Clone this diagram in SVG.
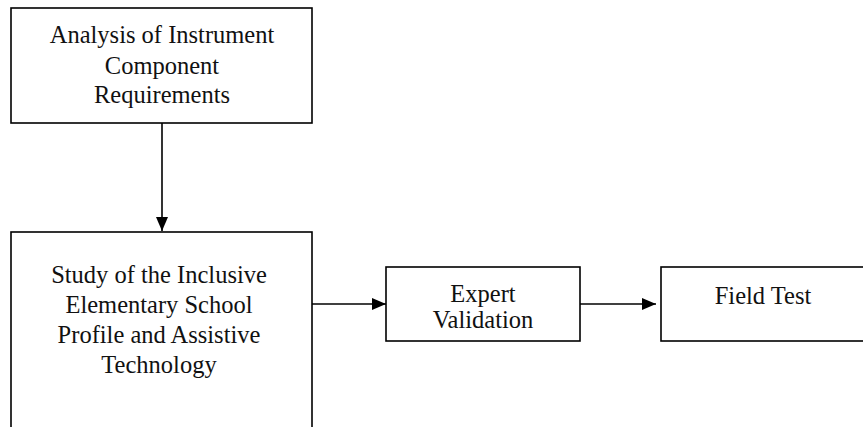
<svg xmlns="http://www.w3.org/2000/svg" width="863" height="427" viewBox="0 0 863 427">
<style>
.box{fill:#fff;stroke:#000;stroke-width:1.6}
.t{font-family:"Liberation Serif","Times New Roman",serif;font-size:24.5px;fill:#111;text-anchor:middle}
.c{stroke:#000;stroke-width:1.6;fill:none}
</style>
<defs>
<marker id="ah" markerWidth="10" markerHeight="10" refX="10" refY="5" orient="auto" markerUnits="userSpaceOnUse" viewBox="0 0 10 10">
<path d="M0,0 L10,5 L0,10 z" fill="#000"/>
</marker>
<marker id="ah2" markerWidth="14" markerHeight="12" refX="14" refY="6" orient="auto" markerUnits="userSpaceOnUse" viewBox="0 0 14 12">
<path d="M0,0 L14,6 L0,12 z" fill="#000"/>
</marker>
</defs>
<rect width="863" height="427" fill="#fff"/>
<g id="n1">
<rect class="box" x="11" y="8" width="301" height="115"/>
<text class="t" x="162" y="43">Analysis of Instrument</text>
<text class="t" x="162" y="74">Component</text>
<text class="t" x="162" y="103">Requirements</text>
</g>
<g id="n2">
<rect class="box" x="11" y="232" width="301" height="210"/>
<text class="t" x="159" y="283">Study of the Inclusive</text>
<text class="t" x="159" y="313">Elementary School</text>
<text class="t" x="159" y="343">Profile and Assistive</text>
<text class="t" x="159" y="373">Technology</text>
</g>
<g id="n3">
<rect class="box" x="386" y="267" width="194" height="74"/>
<text class="t" x="483" y="302">Expert</text>
<text class="t" x="483" y="328">Validation</text>
</g>
<g id="n4">
<rect class="box" x="661" y="267" width="210" height="74"/>
<text class="t" x="763" y="304">Field Test</text>
</g>
<g id="connectors">
<line class="c" x1="162" y1="123" x2="162" y2="231" marker-end="url(#ah2)"/>
<line class="c" x1="312" y1="304" x2="386" y2="304" marker-end="url(#ah2)"/>
<line class="c" x1="580" y1="304" x2="656" y2="304" marker-end="url(#ah2)"/>
</g>
</svg>
